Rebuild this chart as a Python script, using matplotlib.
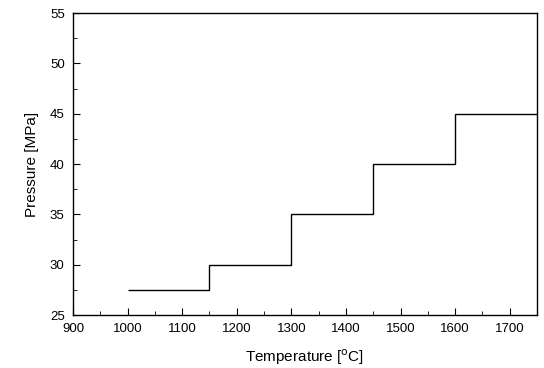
import matplotlib
matplotlib.use("Agg")
import matplotlib.pyplot as plt
from matplotlib.ticker import MultipleLocator

plt.rcParams["font.family"] = ["Liberation Sans", "DejaVu Sans"]

# step edges (temperature) and pressure level for each interval
temp_edges = [1000, 1150, 1300, 1450, 1600, 1750]
pressure = [27.5, 30, 35, 40, 45]

fig = plt.figure(figsize=(5.44, 3.68), dpi=100)
ax = fig.add_axes([73 / 544, 53 / 368, 464 / 544, 302 / 368])

ax.stairs(pressure, temp_edges, color="black", linewidth=1.0, baseline=None)

ax.set_xlim(900, 1750)
ax.set_ylim(25, 55)
ax.xaxis.set_major_locator(MultipleLocator(100))
ax.xaxis.set_minor_locator(MultipleLocator(50))
ax.yaxis.set_major_locator(MultipleLocator(5))
ax.yaxis.set_minor_locator(MultipleLocator(2.5))
ax.tick_params(which="both", direction="in", top=False, right=False, labelsize=9.5)
ax.tick_params(which="major", length=5)
ax.tick_params(which="minor", length=3)
ax.tick_params(axis="x", pad=6)
ax.tick_params(axis="y", pad=6)

ax.set_xlabel("Temperature [$^{\\rm o}$C]", fontsize=11, labelpad=9)
ax.set_ylabel("Pressure [MPa]", fontsize=11, labelpad=8)

for s in ax.spines.values():
    s.set_linewidth(1.0)

fig.savefig("out.png", dpi=100)
